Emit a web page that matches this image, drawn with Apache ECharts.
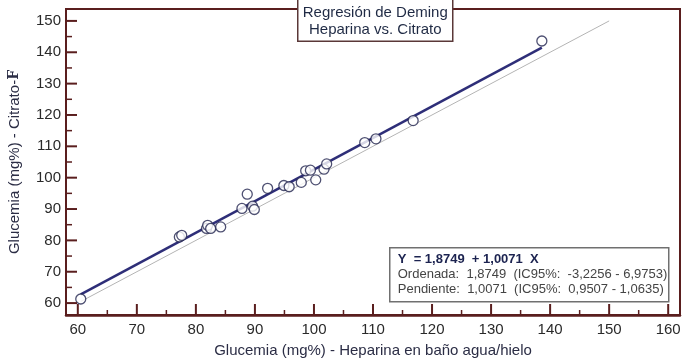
<!DOCTYPE html>
<html>
<head>
<meta charset="utf-8">
<script src="https://cdn.jsdelivr.net/npm/echarts@6/dist/echarts.min.js"></script>
<style>html,body{margin:0;padding:0;background:#fff}#c{width:690px;height:360px}</style>
</head>
<body>
<div id="c"></div>
<script>
// Data
var heparina = [60.5, 77.2, 77.6, 81.8, 82.0, 82.5, 84.2, 87.8, 88.7, 89.6, 89.9, 92.15, 94.9, 95.8, 97.85, 98.6, 99.4, 100.3, 101.7, 102.15, 108.6, 110.5, 116.8, 138.6];
var citrato  = [61.3, 81.1, 81.6, 83.8, 84.8, 83.8, 84.3, 90.2, 94.75, 90.9, 89.85, 96.6, 97.5, 97.1, 98.5, 102.2, 102.4, 99.3, 102.7, 104.4, 111.2, 112.4, 118.2, 143.6];
var intercept = 1.8749;
var slope = 1.0071;
var demingX = [60.5, 138.6];
var identityX = [60.5, 150];
var xMajor = [60, 70, 80, 90, 100, 110, 120, 130, 140, 150, 160];
var xMinor = [65, 75, 85, 95, 105, 115, 125, 135, 145, 155];
var yMajor = [60, 70, 80, 90, 100, 110, 120, 130, 140, 150];
var yMinor = [65, 75, 85, 95, 105, 115, 125, 135, 145];
var titleLines = ['Regresión de Deming', 'Heparina vs. Citrato'];
var eqLines = ['Y  = 1,8749  + 1,0071  X', 'Ordenada:  1,8749  (IC95%:  -3,2256 - 6,9753)', 'Pendiente:  1,0071  (IC95%:  0,9507 - 1,0635)'];
var xName = 'Glucemia (mg%) - Heparina en baño agua/hielo';
var yName = 'Glucemia (mg%) - Citrato-';

var X_MIN = 58, X_MAX = 162, Y_MIN = 56.2, Y_MAX = 153.8;
var frameColor = '#5a1e1e';
var fontFam = 'Liberation Sans, Arial, sans-serif';
var points = heparina.map(function (x, i) { return [x, citrato[i]]; });
var deming = demingX.map(function (x) { return [x, intercept + slope * x]; });
var identity = identityX.map(function (x) { return [x, x]; });

function tickSeries(values, axis, len, width) {
  return {
    type: 'custom', silent: true, clip: false, z: 6,
    data: values.map(function (v) { return axis === 'x' ? [v, Y_MIN] : [X_MIN, v]; }),
    renderItem: function (params, api) {
      var p = api.coord([api.value(0), api.value(1)]);
      var shape = axis === 'x'
        ? { x1: p[0], y1: p[1], x2: p[0], y2: p[1] - len }
        : { x1: p[0], y1: p[1], x2: p[0] + len, y2: p[1] };
      return { type: 'line', shape: shape, style: { stroke: frameColor, lineWidth: width } };
    }
  };
}

var chart = echarts.init(document.getElementById('c'));
chart.setOption({
  animation: false,
  grid: { left: 66, right: 10, top: 9, bottom: 45, show: true, borderColor: frameColor, borderWidth: 2, outerBoundsMode: 'none', containLabel: false },
  xAxis: {
    type: 'value', min: X_MIN, max: X_MAX, position: 'bottom',
    name: xName, nameLocation: 'middle', nameGap: 28,
    nameTextStyle: { fontFamily: fontFam, fontSize: 15, color: '#2b2d45' },
    axisLine: { lineStyle: { color: frameColor, width: 2.5 } },
    axisTick: { show: false },
    axisLabel: { customValues: xMajor, fontFamily: fontFam, fontSize: 15, color: '#2a2a2a', margin: 7 },
    splitLine: { show: false }
  },
  yAxis: {
    type: 'value', min: Y_MIN, max: Y_MAX, position: 'left',
    name: yName + '{f|F}', nameLocation: 'middle', nameGap: 44,
    nameTextStyle: { fontFamily: fontFam, fontSize: 15, color: '#2b2d45',
      rich: { f: { fontFamily: 'DejaVu Serif, serif', fontWeight: 'bold', fontSize: 14, color: '#2b2d45' } } },
    axisLine: { lineStyle: { color: frameColor, width: 2 } },
    axisTick: { show: false },
    axisLabel: { customValues: yMajor, fontFamily: fontFam, fontSize: 15, color: '#2a2a2a', margin: 5 },
    splitLine: { show: false }
  },
  series: [
    tickSeries(xMajor, 'x', 11, 2),
    tickSeries(xMinor, 'x', 5, 1.5),
    tickSeries(yMajor, 'y', 11, 2),
    tickSeries(yMinor, 'y', 6, 1.5),
  {
    type: 'line', data: identity, symbol: 'none',
    lineStyle: { color: '#b4b4b4', width: 1 }, z: 2
  }, {
    type: 'line', data: deming, symbol: 'none',
    lineStyle: { color: '#2e2e78', width: 2.5 }, z: 3
  }, {
    type: 'scatter', data: points,
    symbol: 'circle', symbolSize: 10,
    itemStyle: { color: '#fff', borderColor: '#22244f', borderWidth: 1.3 }, z: 4
  }],
  graphic: [{
    type: 'group', left: 297, top: -2, z: 100,
    children: [{
      type: 'rect', shape: { x: 0, y: 0, width: 155, height: 42.5 },
      style: { fill: '#fff', stroke: '#5a3838', lineWidth: 1.5 }
    }, {
      type: 'text', x: 77.5, y: 14.5,
      style: { text: titleLines[0], font: '15px ' + fontFam, fill: '#1f2a44', align: 'center', verticalAlign: 'middle' }
    }, {
      type: 'text', x: 77.5, y: 31,
      style: { text: titleLines[1], font: '15px ' + fontFam, fill: '#1f2a44', align: 'center', verticalAlign: 'middle' }
    }]
  }, {
    type: 'group', left: 389, top: 247, z: 100,
    children: [{
      type: 'rect', shape: { x: 0, y: 0, width: 279, height: 54 },
      style: { fill: '#fff', stroke: '#707070', lineWidth: 1.5 }
    }, {
      type: 'text', x: 8, y: 12,
      style: { text: eqLines[0], font: 'bold 13px ' + fontFam, fill: '#1c2350', verticalAlign: 'middle' }
    }, {
      type: 'text', x: 8, y: 27,
      style: { text: eqLines[1], font: '13px ' + fontFam, fill: '#444', verticalAlign: 'middle' }
    }, {
      type: 'text', x: 8, y: 42,
      style: { text: eqLines[2], font: '13px ' + fontFam, fill: '#444', verticalAlign: 'middle' }
    }]
  }]
});
</script>
</body>
</html>
